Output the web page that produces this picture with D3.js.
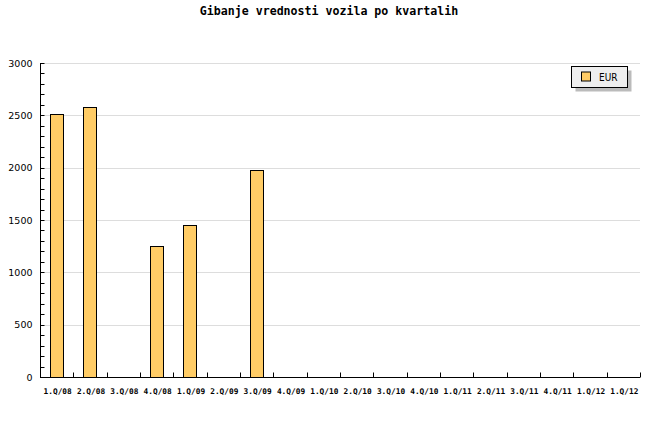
<!DOCTYPE html>
<html><head><meta charset="utf-8">
<script src="https://cdn.jsdelivr.net/npm/d3@7"></script>
<style>body{margin:0;background:#fff}svg{display:block}</style>
</head><body>
<script>
const categories = ["1.Q/08","2.Q/08","3.Q/08","4.Q/08","1.Q/09","2.Q/09","3.Q/09","4.Q/09","1.Q/10","2.Q/10","3.Q/10","4.Q/10","1.Q/11","2.Q/11","3.Q/11","4.Q/11","1.Q/12","1.Q/12 "];
const eurValues = [2510, 2580, 0, 1252, 1452, 0, 1978, 0, 0, 0, 0, 0, 0, 0, 0, 0, 0, 0];
const yTicks = [0, 500, 1000, 1500, 2000, 2500, 3000];
const seriesName = "EUR";
const title = "Gibanje vrednosti vozila po kvartalih";

const W = 660, H = 440;
const m = {l: 40, r: 20, t: 63, b: 63};
const svg = d3.select("body").append("svg").attr("width", W).attr("height", H);

const x = d3.scaleBand().domain(categories).range([m.l, W - m.r]).paddingInner(0).paddingOuter(0);
const y = d3.scaleLinear().domain([0, 3000]).range([H - m.b, m.t]);

svg.append("text").attr("x", 329).attr("y", 15).attr("text-anchor", "middle")
  .attr("font-family", "DejaVu Sans Mono").attr("font-weight", "bold").attr("font-size", 11.6)
  .text(title);

// grid
svg.append("g").selectAll("line").data(yTicks.filter(d => d > 0)).join("line")
  .attr("x1", m.l).attr("x2", W - m.r).attr("y1", d => Math.round(y(d)) + 0.5).attr("y2", d => Math.round(y(d)) + 0.5)
  .attr("stroke", "#dddddd").attr("stroke-width", 1);

// bars
const bw = x.bandwidth() * 0.4;
svg.append("g").selectAll("rect").data(categories.map((c, i) => ({c, v: eurValues[i]})).filter(d => d.v > 0)).join("rect")
  .attr("x", d => Math.round(x(d.c) + (x.bandwidth() - bw) / 2) + 0.5)
  .attr("y", d => Math.round(y(d.v)) + 0.5)
  .attr("width", Math.round(bw))
  .attr("height", d => Math.round(y(0)) - Math.round(y(d.v)))
  .attr("fill", "#ffcc66").attr("stroke", "#000").attr("stroke-width", 1);

// y axis
const ya = svg.append("g").attr("transform", `translate(${m.l + 0.5},0)`);
ya.append("line").attr("y1", y(3000)).attr("y2", y(0)).attr("stroke", "#000");
ya.selectAll("line.minor").data(d3.range(0, 3001, 100)).join("line").attr("class", "minor")
  .attr("x1", 0).attr("x2", 4).attr("y1", d => Math.round(y(d)) + 0.5).attr("y2", d => Math.round(y(d)) + 0.5)
  .attr("stroke", "#000");
ya.selectAll("text").data(yTicks).join("text")
  .attr("x", -8).attr("y", d => y(d) + 3.5).attr("text-anchor", "end")
  .attr("font-family", "DejaVu Sans").attr("font-size", 9.5).attr("fill", "#000")
  .text(d => d);

// x axis
const xa = svg.append("g").attr("transform", `translate(0,${Math.round(y(0)) + 0.5})`);
xa.append("line").attr("x1", m.l).attr("x2", W - m.r).attr("stroke", "#000");
const edges = categories.map(c => x(c)).concat([W - m.r]);
xa.selectAll("line.tick").data(edges.slice(1)).join("line").attr("class", "tick")
  .attr("x1", d => Math.round(d) + 0.5).attr("x2", d => Math.round(d) + 0.5).attr("y1", 0).attr("y2", -5)
  .attr("stroke", "#000");
xa.selectAll("text").data(categories).join("text")
  .attr("x", d => x(d) + x.bandwidth() / 2 + 1).attr("y", 16).attr("text-anchor", "middle")
  .attr("font-family", "DejaVu Sans Mono").attr("font-weight", "bold").attr("font-size", 7.8)
  .text(d => d.trim());

// legend
const lg = svg.append("g").attr("transform", "translate(571.5,66.5)");
lg.append("rect").attr("x", 4).attr("y", 4).attr("width", 56).attr("height", 21).attr("fill", "#bbbbbb");
lg.append("rect").attr("width", 56).attr("height", 21).attr("fill", "#eeeeee").attr("stroke", "#000");
lg.append("rect").attr("x", 10).attr("y", 5.5).attr("width", 9).attr("height", 9).attr("fill", "#ffcc66").attr("stroke", "#000");
lg.append("text").attr("x", 27.5).attr("y", 14.5).attr("font-family", "DejaVu Sans Condensed, DejaVu Sans").attr("font-size", 10).text(seriesName);
</script>
</body></html>
